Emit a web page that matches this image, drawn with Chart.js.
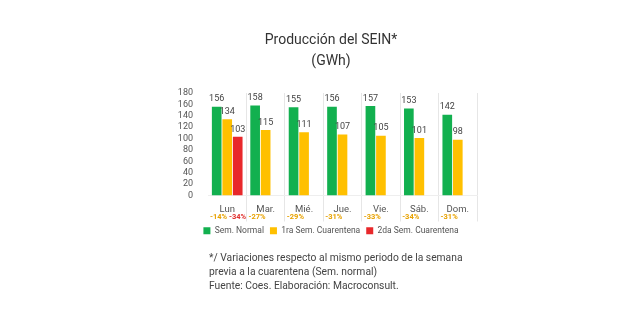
<!DOCTYPE html>
<html>
<head>
<meta charset="utf-8">
<script src="https://cdn.jsdelivr.net/npm/chart.js@4"></script>
<style>
  html, body { margin: 0; padding: 0; background: #fff; }
  #wrap { width: 640px; height: 320px; }
</style>
</head>
<body>
<div id="wrap"><canvas id="chart"></canvas></div>
<script>
const days = ['Lun', 'Mar.', 'Mié.', 'Jue.', 'Vie.', 'Sáb.', 'Dom.'];
const semNormal = [156, 158, 155, 156, 157, 153, 142];
const semCuarentena1 = [134, 115, 111, 107, 105, 101, 98];
const semCuarentena2 = [103, null, null, null, null, null, null];
const var1 = ['-14%', '-27%', '-29%', '-31%', '-33%', '-34%', '-31%'];
const var2 = ['-34%', null, null, null, null, null, null];
const yTicks = [0, 20, 40, 60, 80, 100, 120, 140, 160, 180];

const FONT = 'Roboto';
const GREEN = '#12B04F';
const YELLOW = '#FFC000';
const RED = '#E8282B';

// value labels above bars + variation labels under the day names + footnote
const extrasPlugin = {
    id: 'extrasPlugin',
    afterDatasetsDraw(chart) {
        const {ctx, data, scales: {x}} = chart;
        ctx.save();
        ctx.font = `9px ${FONT}`;
        ctx.fillStyle = '#444';
        ctx.textAlign = 'center';
        ctx.textBaseline = 'bottom';
        data.datasets.forEach((ds, di) => {
            chart.getDatasetMeta(di).data.forEach((bar, i) => {
                const v = ds.data[i];
                if (v === null || v === undefined) return;
                ctx.fillText(String(v), bar.x, bar.y - 3);
            });
        });

        // variations
        const half = (x.getPixelForValue(1) - x.getPixelForValue(0)) / 2;
        ctx.font = `bold 7.5px ${FONT}`;
        ctx.textAlign = 'left';
        ctx.textBaseline = 'middle';
        days.forEach((d, i) => {
            const left = x.getPixelForValue(i) - half + 2;
            ctx.fillStyle = '#E8A200';
            ctx.fillText(var1[i], left, 217);
            if (var2[i]) {
                ctx.fillStyle = '#E0302E';
                ctx.fillText(var2[i], left + 19, 217);
            }
        });

        // footnote
        ctx.font = `10.3px ${FONT}`;
        ctx.fillStyle = '#444';
        ctx.fillText('*/ Variaciones respecto al mismo periodo de la semana', 209, 258);
        ctx.fillText('previa a la cuarentena (Sem. normal)', 209, 272);
        ctx.fillText('Fuente: Coes. Elaboración: Macroconsult.', 209, 286);
        ctx.restore();
    }
};

const ctx = document.getElementById('chart').getContext('2d');
new Chart(ctx, {
    type: 'bar',
    data: {
        labels: days,
        datasets: [
            {label: 'Sem. Normal', data: semNormal, backgroundColor: GREEN},
            {label: '1ra Sem. Cuarentena', data: semCuarentena1, backgroundColor: YELLOW},
            {label: '2da Sem. Cuarentena', data: semCuarentena2, backgroundColor: RED}
        ]
    },
    options: {
        responsive: true,
        maintainAspectRatio: false,
        animation: false,
        layout: {
            padding: {left: 22, right: 0, top: 30, bottom: 75}
        },
        datasets: {
            bar: {categoryPercentage: 0.82, barPercentage: 0.92}
        },
        plugins: {
            title: {
                display: true,
                text: ['Producción del SEIN*', '(GWh)'],
                color: '#333',
                font: {family: FONT, size: 14, weight: 'normal', lineHeight: 1.5},
                padding: {top: 0, bottom: 21}
            },
            legend: {
                position: 'bottom',
                labels: {
                    boxWidth: 7,
                    boxHeight: 7,
                    padding: 6,
                    color: '#555',
                    font: {family: FONT, size: 8.5}
                }
            },
            tooltip: {enabled: false}
        },
        scales: {
            x: {
                grid: {
                    offset: true,
                    color: (c) => (c.index === 0 || c.index === days.length) ? 'rgba(0,0,0,0)' : '#E6E6E6',
                    tickLength: 26,
                    tickColor: (c) => (c.index === 0 || c.index === days.length) ? 'rgba(0,0,0,0)' : '#E6E6E6'
                },
                border: {display: true, color: '#EEEEEE'},
                ticks: {
                    color: '#555',
                    font: {family: FONT, size: 9.5},
                    padding: -18
                },
                afterFit(scale) { scale.height = 25; }
            },
            y: {
                min: 0,
                max: 180,
                grid: {display: false},
                border: {display: false},
                afterBuildTicks(scale) { scale.ticks = yTicks.map(v => ({value: v})); },
                afterFit(scale) { scale.width = 186; },
                ticks: {
                    autoSkip: false,
                    color: '#555',
                    font: {family: FONT, size: 9},
                    padding: 7
                }
            },
            yRight: {
                position: 'right',
                grid: {display: false},
                border: {display: false},
                ticks: {display: false},
                afterFit(scale) { scale.width = 163; }
            }
        }
    },
    plugins: [extrasPlugin]
});
</script>
</body>
</html>
